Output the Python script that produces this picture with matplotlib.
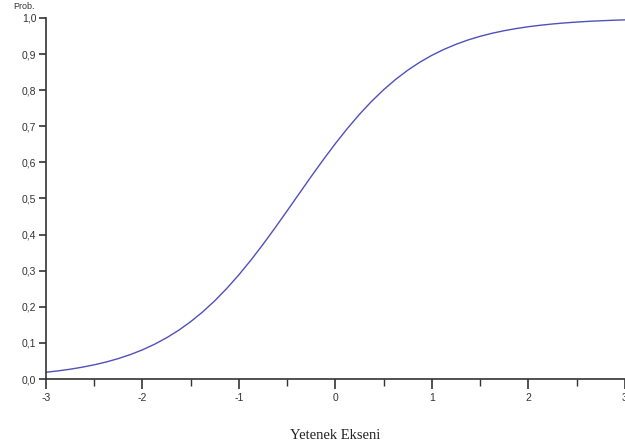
import matplotlib
matplotlib.use("Agg")
import matplotlib.pyplot as plt
from matplotlib.ticker import MultipleLocator, FuncFormatter

# ability values and item response probabilities
theta = [-3.0, -2.875, -2.75, -2.625, -2.5, -2.375, -2.25, -2.125,
         -2.0, -1.875, -1.75, -1.625, -1.5, -1.375, -1.25, -1.125,
         -1.0, -0.875, -0.75, -0.625, -0.5, -0.375, -0.25, -0.125,
         0.0, 0.125, 0.25, 0.375, 0.5, 0.625, 0.75, 0.875,
         1.0, 1.125, 1.25, 1.375, 1.5, 1.625, 1.75, 1.875,
         2.0, 2.125, 2.25, 2.375, 2.5, 2.625, 2.75, 2.875, 3.0]
prob = [0.0187, 0.0225, 0.0271, 0.0327, 0.0393, 0.0472, 0.0566, 0.0677,
        0.0808, 0.0962, 0.1141, 0.1349, 0.1588, 0.1860, 0.2168, 0.2511,
        0.2887, 0.3294, 0.3730, 0.4187, 0.4658, 0.5135, 0.5611, 0.6075,
        0.6520, 0.6940, 0.7331, 0.7689, 0.8011, 0.8298, 0.8551, 0.8773,
        0.8964, 0.9128, 0.9269, 0.9389, 0.9490, 0.9575, 0.9646, 0.9706,
        0.9756, 0.9797, 0.9832, 0.9861, 0.9885, 0.9905, 0.9921, 0.9935, 0.9946]

fig = plt.figure(figsize=(6.25, 4.48), dpi=100)
ax = fig.add_axes([0.0736, 0.154, 0.926, 0.806])

ax.plot(theta, prob, color='#5050bb', linewidth=1.0, solid_joinstyle='round')

ax.set_xlim(-3, 3)
ax.set_ylim(0, 1)
for s in ['top', 'right']:
    ax.spines[s].set_visible(False)
for s in ['left', 'bottom']:
    ax.spines[s].set_color('#333333')
    ax.spines[s].set_linewidth(1.2)

ax.xaxis.set_major_locator(MultipleLocator(1))
ax.xaxis.set_minor_locator(MultipleLocator(0.5))
ax.yaxis.set_major_locator(MultipleLocator(0.1))
ax.yaxis.set_major_formatter(FuncFormatter(lambda v, p: ('%.1f' % v).replace('.', ',')))
ax.xaxis.set_major_formatter(FuncFormatter(lambda v, p: '%d' % round(v)))

ax.tick_params(axis='x', which='major', direction='out', length=7, width=1.2,
               color='#333333', labelsize=7.5, labelcolor='#333333', pad=3)
ax.tick_params(axis='x', which='minor', direction='out', length=5, width=1.0, color='#333333')
ax.tick_params(axis='y', which='major', direction='out', length=5, width=1.2,
               color='#333333', labelsize=7.5, labelcolor='#333333', pad=2)
for lbl in ax.get_xticklabels() + ax.get_yticklabels():
    lbl.set_family('Liberation Sans')

fig.text(0.022, 0.975, 'Prob.', fontsize=6.5, family='Liberation Sans', color='#333333',
         ha='left', va='bottom')
fig.text(0.537, 0.028, 'Yetenek Ekseni', fontsize=10.5, family='Liberation Serif',
         color='#222222', ha='center', va='center')

plt.savefig('out.png', dpi=100)
plt.close()
